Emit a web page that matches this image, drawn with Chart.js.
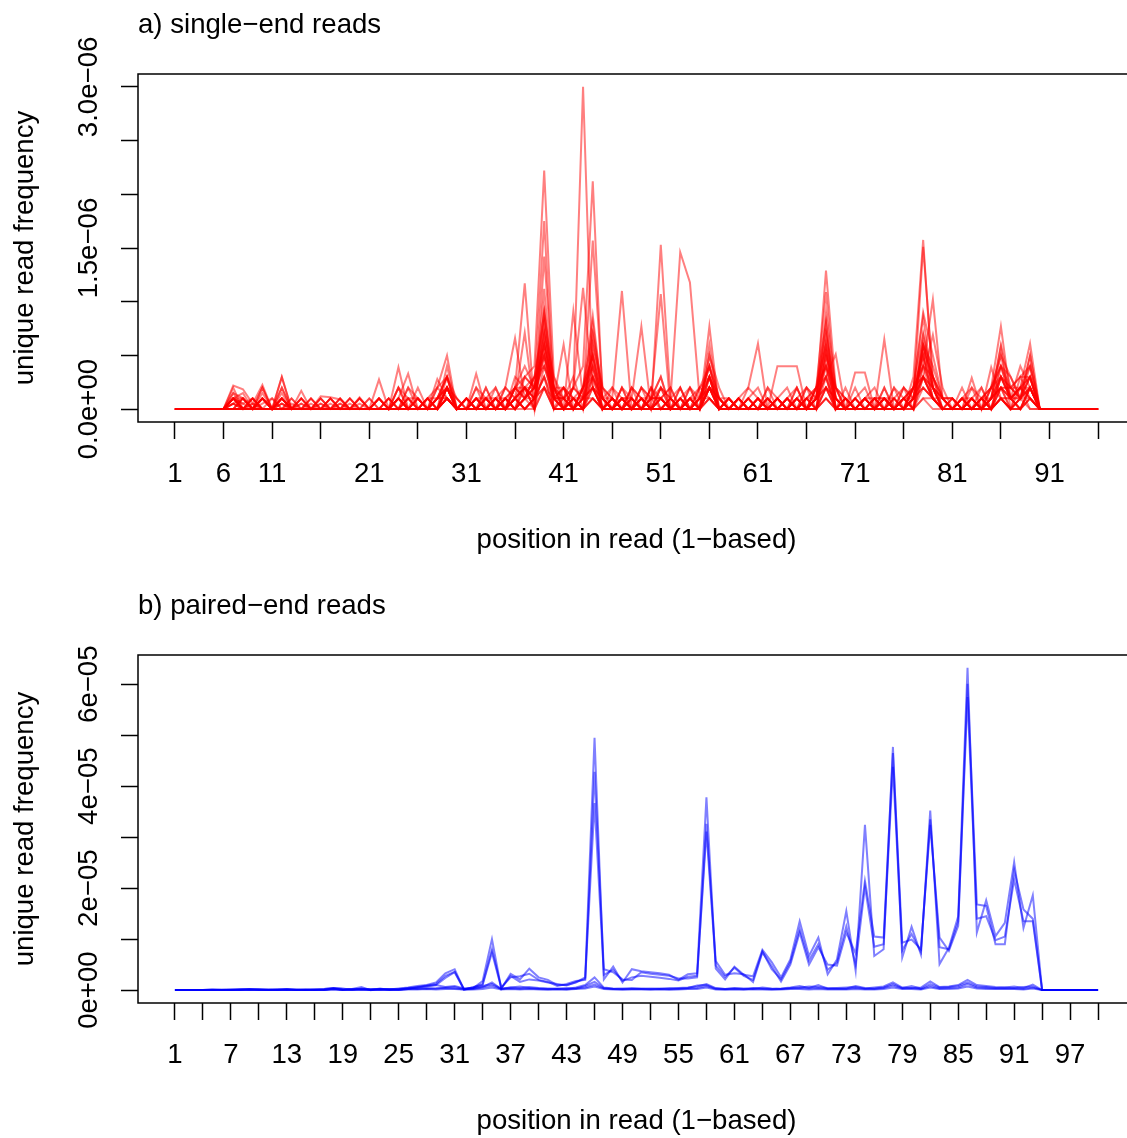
<!DOCTYPE html>
<html>
<head>
<meta charset="utf-8">
<script src="https://cdn.jsdelivr.net/npm/chart.js@4/dist/chart.umd.min.js"></script>
<style>
  html, body { margin: 0; padding: 0; overflow: hidden; background: #fff; width: 1127px; height: 1138px; }
  canvas { position: absolute; left: 0; }
  #chartA { top: 0; }
  #chartB { top: 580px; }
</style>
</head>
<body>
<canvas id="chartA" width="1140" height="580"></canvas>
<canvas id="chartB" width="1140" height="558"></canvas>
<script>
// a) single-end reads: positions 1..96, values in units of 1e-7
const posA = Array.from({length: 96}, (_, i) => i + 1);
const ticksA = [1, 6, 11, 16, 21, 26, 31, 36, 41, 46, 51, 56, 61, 66, 71, 76, 81, 86, 91, 96];
const labelsA = [1, 6, 11, 21, 31, 41, 51, 61, 71, 81, 91];
const yTicksA = [0, 5e-7, 1e-6, 1.5e-6, 2e-6, 2.5e-6, 3e-6];
const yLabelsA = [[0, '0.0e+00'], [1.5e-6, '1.5e\u221206'], [3e-6, '3.0e\u221206']];

const singleT1 = [0,0,0,0,0,0,0,0,0,0, 0,0,0,0,0,0,0,0,0,0, 0,0,0,0,0,0,1,0,2,0, 0,1,0,0,1,0,2,1,5,1,
  1,2,30,2,0,1,0,2,0,1, 3,0,1,0,1,2,0,1,0,1, 2,0,1,0,1,0,1,4,0,1, 0,1,0,2,0,0,1,5,2,1, 0,1,0,1,0,3,1,0,2,0, 0,0,0,0,0,0];
const singleT2 = [0,0,0,0,0,0,1,0,0,0, 0,1,0,0,0,0,0,0,0,0, 0,0,0,0,1,0,0,1,3,0, 0,0,1,0,0,2,3,4,22.2,3,
  1,0,2,8.7,1,0,2,0,1,0, 1,0,0,2,0,3,1,0,0,1, 0,1,0,0,2,0,0,6,1,0, 1,0,0,1,0,1,0,3,1,0, 0,0,1,0,2,1,0,3,1,0, 0,0,0,0,0,0];
const singleT3 = [0,0,0,0,0,0,0,1,0,0, 0,0,1,0,0,0,0,1,0,0, 0,1,0,0,0,1,0,0,2,0, 1,0,0,1,0,1,2,0,9.3,2,
  0,2,4,21.2,1,0,1,0,2,0, 15.3,1,0,1,0,2,0,1,0,0, 1,0,0,1,0,0,2,3,0,1, 0,0,1,0,0,2,0,4,1,0, 1,0,0,2,0,1,1,2,0,0, 0,0,0,0,0,0];
const singleT4 = [0,0,0,0,0,0,2,0,0,1, 0,0,0,1,0,0,0,0,0,1, 0,0,0,1,0,0,1,0,1,0, 0,1,0,0,1,0,3,2,17.5,1,
  2,0,1,15.7,2,1,0,1,0,2, 0,1,14.6,11.8,1,2,0,0,1,0, 0,0,1,0,0,1,0,2,1,0, 1,0,0,0,1,0,2,3,1,0, 0,1,0,0,1,2,0,1,2,0, 0,0,0,0,0,0];
const singleT5 = [0,0,0,0,0,0,0,0,0,1, 0,3,0,0,0,0,0,0,0,0, 0,0,0,0,0,1,0,0,2,0, 1,0,0,1,0,2,11.7,0,14.2,2,
  0,1,2,3,0,1,0,0,1,0, 1,0,2,0,0,3,0,1,0,0, 0,1,0,0,0,2,1,12.9,2,0, 0,1,0,0,1,0,3,15.75,2,1, 0,0,1,0,0,3,1,2,1,0, 0,0,0,0,0,0];
const singleT6 = [0,0,0,0,0,0,1,0,0,0, 0,0,0,0,1,0,0,0,0,0, 0,1,0,0,0,0,0,1,1,0, 0,0,1,0,0,1,2,1,11.2,1,
  0,2,11.3,2,0,1,11,0,1,0, 0,1,0,0,2,1,0,0,1,0, 1,0,0,0,1,0,2,10.9,1,0, 0,0,1,1,0,2,1,15.1,3,1, 1,0,0,1,0,2,2,1,0,0, 0,0,0,0,0,0];
const singleT7 = [0,0,0,0,0,0,0,1,0,0, 0,1,0,0,0,1,0,0,0,0, 0,0,0,3.9,0,0,0,0,1,0, 0,0,0,1,2,6.6,1,2,7,1,
  1,0,1,2,1,0,1,0,2,1, 10.7,0,1,0,0,2,1,0,0,2, 6.1,0,0,1,0,0,1,8.1,0,1, 0,0,0,1,0,0,2,4,10.2,1, 0,0,1,0,2,7.7,1,0,2,0, 0,0,0,0,0,0];
const singleT8 = [0,0,0,0,0,0,1,0,0,2, 0,0,0,1,0,0,0,1,0,0, 0,2.75,0,1,0,0,1,0,2,0, 0,1,0,0,0,1,7.1,0,8,1,
  0,9.1,1,2,0,1,0,1,7.7,0, 1,0,0,1,0,7.7,0,1,0,0, 1,0,0,0,1,0,1,5.5,0,0, 1,0,0,6.5,0,1,0,3,6.9,2, 0,0,0,1,0,2,1,2,6.1,0, 0,0,0,0,0,0];
const singleT9 = [0,0,0,0,0,0,0,0,1,0, 0,0,0,0,0,0,1,0,0,0, 0,0,0,0,0,1,0,2,5,0, 1,0,0,0,1,0,1,3,9,1,
  6,0,2,5,1,0,0,1,0,1, 0,0,1,0,1,3,0,0,1,0, 0,0,1,0,0,1,0,3,5.1,0, 0,1,0,0,0,1,2,8.6,2,0, 0,1,0,0,1,5.8,0,1,5,0, 0,0,0,0,0,0];
const singleT10 = [0,0,0,0,0,0,0,0,0,0, 0,1,0,0,0,0,0,0,1,0, 0,0,0,1,3.3,0,0,2.8,1,0, 0,3.3,0,0,0,1,2,1,6,2,
  1,0,1,8,1,0,1,0,0,1, 1,0,0,1,0,2,1,0,0,0, 0,0,4,4,4,0,1,2,0,0, 3.4,3.4,0,1,0,0,1,5.5,3,0, 0,0,2.9,0,3.9,1,0,2,1,0, 0,0,0,0,0,0];
const singleL1 = [0,0,0,0,0,0,1.5,1,0,1.5, 0,1,0,1,0,0.5,0,0.5,0,1, 0,1,0,2,1,0,1,2,3,0, 0,1,1,0,2,1,2,3,4,1,
  2,1,0,3,1,0,2,1,0,1, 2,1,0,1,2,4,1,0,1,2, 1,0,1,2,0,1,2,4,1,0, 1,2,0,1,1,0,2,4,3,1, 0,1,2,1,2,3,2,3,4,0, 0,0,0,0,0,0];
const singleL2 = [0,0,0,0,0,0,2.2,1.85,0.5,2.25, 0,1,0,1.7,0,1.2,1.1,0.9,0,1.1, 0,1,0,2,0,1,0,1,2,0, 1,0,2,0,1,2,1,2,5,2,
  1,2,1,4,0,1,0,2,1,0, 1,2,0,2,1,3,0,1,0,1, 0,2,1,0,1,2,0,5,2,1, 0,1,2,0,1,2,1,6,4,1, 1,0,1,2,0,4,3,1,3,0, 0,0,0,0,0,0];
const singleL3 = [0,0,0,0,0,0,1,0.5,1,0, 0,3,0,0,0.5,0,0,0,0.5,0, 0,0,1,0,2,0,1,0,3,1, 0,0,1,2,0,1,0,1,6,0,
  1,0,2,5,0,2,1,0,1,0, 0,1,2,0,1,4,0,0,1,0, 1,0,0,1,0,2,1,6,0,1, 0,0,1,0,2,1,0,7,2,0, 0,1,0,1,2,4,1,2,3,0, 0,0,0,0,0,0];
const singleL4 = [0,0,0,0,0,0,1,1.5,0,0.5, 1,0,0.5,0,1,0,0.5,0,0,0, 0,0,0,1,0,2,0,1,2,0, 1,0,0,0,1,0,1,2,7,3,
  0,1,0,6,2,0,1,0,0,2, 1,0,1,0,0,2,1,0,0,1, 0,0,1,0,1,0,1,7,1,0, 1,0,0,1,0,1,2,5,1,1, 1,0,1,0,1,3,1,2,2,0, 0,0,0,0,0,0];
const singleL5 = [0,0,0,0,0,0,0.5,0,0,1, 0,1,0,0,0,0,0,0,0,0, 0,0,0,0,0,0,0,0,1,0, 0,0,1,0,0,1,0,1,3,0,
  0,1,0,2,1,0,0,1,0,0, 0,0,1,0,0,1,0,0,1,0, 0,0,0,1,0,0,1,2,0,0, 0,1,0,0,0,0,1,3,1,0, 0,0,0,1,0,1,0,1,2,0, 0,0,0,0,0,0];
const singleL6 = [0,0,0,0,0,0,1,0,1,0, 0,0.5,0,0,0,0,1,0,1,0, 1,0,0,1,0,0,0,0,2,1, 0,2,0,1,0,3,2,1,5,1,
  2,0,2,4,1,0,1,1,0,0, 2,1,0,1,0,5,2,0,0,1, 0,1,0,0,0,1,0,4,2,1, 0,1,0,0,1,0,1,6,2,0, 0,0,1,0,1,3,2,2,4,0, 0,0,0,0,0,0];
const singleL7 = [0,0,0,0,0,0,0,1,0,1, 0,0,0,0,0,0,0,0,1,0, 0,0,1,0,0,0,0,0,1,0, 0,1,0,0,0,0,1,0,2,1,
  0,0,0,1,0,1,0,0,1,0, 0,0,0,0,1,1,0,0,0,0, 0,0,1,0,0,0,0,1,0,0, 0,0,0,0,0,0,1,2,1,0, 0,1,0,0,0,1,0,1,1,0, 0,0,0,0,0,0];
const singleL8 = [0,0,0,0,0,0,1,1,0,2, 0,0,1,0,0,0.5,0,0,0,0.5, 0,0,0,0,1,1,0,1,3,0, 1,0,1,0,2,1,3,2,6,2,
  0,1,1,5,1,2,0,1,0,1, 1,2,0,0,1,4,1,1,0,0, 0,1,0,1,0,0,2,6,1,0, 0,0,1,1,0,1,1,4,2,0, 0,1,0,1,2,4,2,3,3,0, 0,0,0,0,0,0];
const singleL9 = [0,0,0,0,0,0,0,0,0,0, 0,0,0,0,0,0,0,0,0,0, 0,0,0,0,0,0,0,0,1,0, 0,0,0,1,0,0,0,1,2,0,
  0,0,1,1,0,0,0,0,0,0, 0,0,0,0,0,1,0,0,0,0, 0,0,0,0,0,0,0,1,0,0, 0,0,0,0,0,0,0,1,0,0, 0,0,0,0,0,1,0,0,1,0, 0,0,0,0,0,0];
const singleL10 = [0,0,0,0,0,0,0.5,0,1,0, 0,1,0,1,0,0,0,0.5,0,0, 0,1,0,2,0,0,1,0,2,1, 0,2,1,0,1,2,1,3,8,1,
  1,3,0,7,2,1,0,0,2,1, 3,0,1,2,0,6,0,0,1,0, 1,0,0,1,2,0,1,9,2,0, 1,0,1,0,0,1,2,9,5,1, 0,1,1,0,1,5,3,1,5,0, 0,0,0,0,0,0];
const singleL11 = [0,0,0,0,0,0,0,0,0,1, 0,0,0,0,0,0,0,0,0,0, 0,0,0,0,0,0,0,0,1,0, 0,0,0,0,0,1,0,0,2,0,
  0,0,0,1,0,0,1,0,0,0, 0,0,0,0,0,2,0,0,0,0, 0,0,0,0,0,0,0,2,0,0, 0,0,0,0,0,0,0,2,1,0, 0,0,0,0,0,1,1,0,2,0, 0,0,0,0,0,0];
const singleL12 = [0,0,0,0,0,0,1.5,0,0,1, 0,2,0,0,0,0,1,0,0,0, 0,0,0,0,1,0,0,0,4,0, 0,0,1,0,0,2,4,2,9,2,
  2,0,2,7,1,0,1,0,0,2, 0,1,0,0,0,5,1,0,1,0, 0,0,1,0,0,1,2,8,0,1, 0,0,0,1,0,0,2,7,3,1, 0,0,0,1,1,6,2,1,4,0, 0,0,0,0,0,0];
const singleL13 = [0,0,0,0,0,0,1,0,0,1, 0,1,0,0,0,1,0,0,0,1, 0,0,1,0,1,0,0,2,1,0, 0,1,0,2,0,1,2,0,4,1,
  0,2,1,3,0,1,0,2,1,0, 2,0,1,0,2,3,0,1,0,1, 0,2,0,1,0,1,1,3,0,2, 0,1,1,0,2,0,1,3,2,0, 1,0,2,0,1,2,1,4,2,0, 0,0,0,0,0,0];
const singleL14 = [0,0,0,0,0,0,0.5,1,0,0, 1,0,0,0.5,0,0,1,0,0,0, 1,0,0,1,0,1,0,0,2,0, 1,0,2,0,1,0,1,3,5,0,
  1,0,0,4,0,0,2,0,1,0, 1,0,2,0,0,3,1,0,1,0, 0,1,0,0,2,0,0,5,1,0, 2,0,0,1,0,0,1,5,1,0, 0,2,0,1,0,3,1,1,3,0, 0,0,0,0,0,0];
const singleL15 = [0,0,0,0,0,0,1,0.5,0,1, 0,1.5,0,0.5,0,0,0,1,0,0, 0,1,0,1,0,0,1,1,3,0, 0,0,1,1,0,2,1,2,6,1,
  1,1,0,5,0,1,0,0,1,1, 1,0,0,1,1,4,0,0,0,0, 1,0,1,0,0,1,0,5,0,0, 0,1,0,2,0,1,0,6,2,1, 0,0,1,0,1,4,1,2,3,0, 0,0,0,0,0,0];
const singleL16 = [0,0,0,0,0,0,0,0,0.5,0, 0,0.5,0,0,0,0,0,0,0,0, 0,0,0,1,0,0,0,0,1,0, 0,0,0,0,1,0,1,1,3,0,
  0,1,0,2,0,0,0,0,0,1, 1,0,0,0,0,2,0,0,0,0, 0,0,0,0,0,0,1,3,0,0, 0,0,0,0,0,0,1,3,1,0, 0,0,0,0,1,2,0,0,2,0, 0,0,0,0,0,0];
const singleL17 = [0,0,0,0,0,0,1,0,1,0, 0,2,0,0,0,1,0,0,0,0, 0,0,0,0,2,1,0,0,2,0, 1,0,0,1,0,2,2,0,7,0,
  2,1,0,6,1,1,0,0,1,0, 0,1,0,0,1,3,0,1,0,0, 1,0,1,0,0,0,1,7,2,0, 0,1,0,0,0,1,0,6,3,0, 1,0,0,0,2,5,1,1,3,0, 0,0,0,0,0,0];
const singleL18 = [0,0,0,0,0,0,0,0,0,0, 0,0,0,0,0,0,0,0,0,0, 0,0,0,0,0,0,0,1,1,0, 0,1,0,0,0,1,0,1,3,1,
  0,0,1,2,0,0,1,0,0,0, 0,0,0,1,0,2,0,0,0,0, 0,0,0,0,1,0,0,2,1,0, 0,0,1,0,0,0,1,2,1,0, 0,0,0,1,0,2,1,0,1,0, 0,0,0,0,0,0];
const singleL19 = [0,0,0,0,0,0,1,0,0,0, 0,0,0,0,1,0,0,0,0,0, 0,0,1,0,0,0,0,1,2,0, 0,1,0,1,1,0,2,2,4,2,
  0,1,0,3,1,0,1,1,0,0, 2,0,0,1,0,2,1,0,1,0, 0,1,0,0,1,0,2,4,0,1, 0,0,0,1,0,0,2,3,2,0, 0,0,1,0,1,2,2,1,2,0, 0,0,0,0,0,0];
const singleL20 = [0,0,0,0,0,0,0.5,0,0.5,0, 0,0.5,0,0,0,0,0,0,0,0, 0,0,0,0,0,0,0,0,1,0, 0,0,0,0,0,1,0,1,2,0,
  0,0,0,1,0,0,0,0,1,0, 0,0,0,0,0,1,0,0,0,0, 0,0,0,0,0,0,0,1,0,0, 0,0,0,0,0,0,0,1,1,0, 0,0,0,0,0,1,0,0,1,0, 0,0,0,0,0,0];

const seriesA = [singleT1, singleT2, singleT3, singleT4, singleT5, singleT6, singleT7, singleT8, singleT9, singleT10,
  singleL1, singleL2, singleL3, singleL4, singleL5, singleL6, singleL7, singleL8, singleL9, singleL10,
  singleL11, singleL12, singleL13, singleL14, singleL15, singleL16, singleL17, singleL18, singleL19, singleL20];

// b) paired-end reads: positions 1..100, values in units of 1e-6
const posB = Array.from({length: 100}, (_, i) => i + 1);
const ticksB = Array.from({length: 34}, (_, i) => 1 + 3 * i);
const labelsB = [1, 7, 13, 19, 25, 31, 37, 43, 49, 55, 61, 67, 73, 79, 85, 91, 97];
const yTicksB = [0, 1e-5, 2e-5, 3e-5, 4e-5, 5e-5, 6e-5];
const yLabelsB = [[0, '0e+00'], [2e-5, '2e\u221205'], [4e-5, '4e\u221205'], [6e-5, '6e\u221205']];

const pairedB1 = [0,0,0,0,0.1,0,0,0.2,0.1,0.2, 0,0.1,0.2,0,0,0.1,0.2,0.4,0.2,0.1, 0.2,0.1,0.2,0.1,0.3,0.5,0.8,1.0,1.5,3.3,
  4.1,0.1,0.4,1.8,10.0,0.3,3.2,2.1,4.2,2.5, 2.0,1.0,1.0,1.5,2.5,49.5,2.1,4.6,1.5,4.1, 3.7,3.5,3.3,3.0,2.0,3.1,3.3,37.8,4.2,2.1,
  4.6,3.0,2.7,7.9,5.5,2.5,6.0,13.5,6.7,10.3, 3.1,6.0,15.5,3.8,32.4,6.7,8.0,47.7,6.4,12.4, 7.0,35.2,5.1,8.3,14.5,63.2,11.3,17.6,10.6,13.2,
  25.1,12.2,18.6,0,0,0,0,0,0,0];
const pairedB2 = [0,0,0,0,0,0.1,0,0.1,0,0.1, 0.1,0,0.1,0,0.2,0,0.1,0.3,0.1,0.2, 0.1,0.2,0.1,0.2,0.2,0.4,0.6,0.9,1.2,2.8,
  3.6,0.2,0.5,1.2,8.0,0.5,2.5,2.7,3.2,2.0, 1.6,0.8,1.2,1.8,2.0,42.8,4.1,3.5,2.1,2.0, 3.5,3.2,3.0,2.8,2.3,2.3,2.5,32.6,5.7,3.0,
  3.3,3.1,1.6,7.4,4.7,1.7,5.0,11.3,5.0,8.4, 5.0,4.8,11.3,7.2,21.4,10.5,10.3,46.5,9.3,9.9, 8.0,32.4,10.3,7.7,12.6,60.1,16.8,16.5,9.0,9.0,
  23.6,15.8,14.0,0,0,0,0,0,0,0];
const pairedB3 = [0,0,0,0,0,0,0.1,0,0.1,0, 0,0.1,0,0.1,0,0.1,0,0.2,0,0.1, 0.2,0,0.1,0.2,0.1,0.3,0.5,0.7,1.0,2.4,
  3.5,0.1,0.6,1.0,7.4,0.4,2.8,1.6,2.1,1.9, 1.5,1.2,0.9,1.6,2.2,36.7,3.0,4.0,1.8,2.5, 2.8,2.6,2.4,2.2,1.9,2.6,2.8,31.1,4.8,2.6,
  4.4,2.8,2.0,7.6,4.1,2.1,5.5,12.0,5.8,9.0, 4.0,5.4,12.5,5.0,20.3,8.5,9.0,43.8,7.8,11.0, 7.5,33.5,8.4,8.0,13.5,57.5,14.0,14.5,9.8,10.5,
  21.7,13.5,13.5,0,0,0,0,0,0,0];
const pairedB4 = [0,0,0,0,0.1,0,0.1,0,0.2,0, 0.1,0,0.2,0,0,0.1,0,0.3,0,0.2, 0.6,0,0.3,0,0.1,0.2,0.3,0.2,0.3,0.5,
  0.6,0.2,0.3,0.6,1.5,0.2,0.5,0.7,0.4,0.3, 0.2,0.3,0.2,0.5,1.0,2.5,0.5,0.3,0.2,0.4, 0.3,0.2,0.3,0.2,0.4,0.5,0.7,1.2,0.4,0.2,
  0.3,0.2,0.4,0.3,0.2,0.3,0.5,0.8,0.4,1.0, 0.3,0.4,0.5,0.6,0.3,0.5,0.7,1.5,0.5,0.4, 0.5,1.7,0.6,0.7,1.0,2.0,1.0,0.8,0.6,0.5,
  0.7,0.4,1.1,0,0,0,0,0,0,0];
const pairedB5 = [0,0,0,0,0,0,0,0.1,0.2,0.1, 0,0.1,0,0.1,0,0,0.2,0.4,0.3,0, 0.3,0.1,0.2,0.1,0,0.2,0.5,0.8,1.0,0.6,
  0.8,0.3,0.4,0.8,1.2,0.3,0.5,0.4,0.6,0.4, 0.3,0.2,0.4,0.3,0.8,1.6,0.4,0.2,0.3,0.2, 0.2,0.3,0.2,0.4,0.3,0.4,0.9,1.0,0.3,0.2,
  0.4,0.3,0.2,0.5,0.3,0.2,0.4,0.5,0.7,0.6, 0.4,0.3,0.3,0.8,0.4,0.3,0.5,1.2,0.4,0.8, 0.3,1.2,0.5,0.6,0.8,1.5,0.7,0.6,0.4,0.5,
  0.4,0.6,0.7,0,0,0,0,0,0,0];
const pairedB6 = [0,0,0,0,0,0,0,0,0.1,0, 0,0,0.1,0,0,0,0,0.2,0,0.1, 0.1,0,0.1,0,0.1,0.3,0.2,0.4,0.3,0.4,
  0.3,0.1,0.2,0.5,0.9,0.2,0.3,0.2,0.3,0.2, 0.1,0.2,0.1,0.3,0.5,1.1,0.3,0.2,0.1,0.2, 0.2,0.1,0.2,0.1,0.2,0.3,0.4,0.8,0.2,0.1,
  0.2,0.1,0.3,0.2,0.1,0.2,0.3,0.4,0.3,0.4, 0.2,0.2,0.2,0.4,0.2,0.2,0.4,0.9,0.3,0.4, 0.2,0.8,0.3,0.4,0.5,1.2,0.5,0.4,0.3,0.3,
  0.3,0.2,0.5,0,0,0,0,0,0,0];
const pairedB7 = [0,0,0,0,0,0,0,0,0,0, 0,0,0,0,0,0,0,0.1,0,0, 0,0,0,0,0,0.1,0.1,0.2,0.1,0.2,
  0.2,0.1,0.1,0.2,0.5,0.1,0.2,0.1,0.2,0.1, 0.1,0.1,0.1,0.2,0.3,0.7,0.2,0.1,0.1,0.1, 0.1,0.1,0.1,0.1,0.1,0.2,0.2,0.5,0.1,0.1,
  0.1,0.1,0.1,0.1,0.1,0.1,0.2,0.2,0.1,0.2, 0.1,0.1,0.1,0.2,0.1,0.1,0.2,0.5,0.2,0.2, 0.1,0.5,0.2,0.2,0.3,0.7,0.3,0.2,0.2,0.2,
  0.2,0.1,0.3,0,0,0,0,0,0,0];

const seriesB = [pairedB1, pairedB2, pairedB3, pairedB4, pairedB5, pairedB6, pairedB7];

const FONT = '"Liberation Sans", Arial, Helvetica, sans-serif';
const FONT_SIZE = 27.6;

// box, rotated y labels and titles, placed from the chart's own scales
const frame = {
  id: 'frame',
  afterDraw(chart, args, o) {
    const ctx = chart.ctx, a = chart.chartArea, y = chart.scales.y;
    ctx.save();
    ctx.strokeStyle = '#000';
    ctx.lineWidth = 1.5;
    ctx.strokeRect(a.left, a.top, a.right - a.left, a.bottom - a.top);
    ctx.fillStyle = '#000';
    ctx.font = FONT_SIZE + 'px ' + FONT;
    ctx.textBaseline = 'middle';
    ctx.textAlign = 'left';
    ctx.fillText(o.title, a.left, a.top - 49);
    ctx.textAlign = 'center';
    ctx.fillText(o.xTitle, (a.left + a.right) / 2, a.bottom + 118);
    o.yLabels.forEach(([v, txt]) => {
      ctx.save();
      ctx.translate(89, y.getPixelForValue(v));
      ctx.rotate(-Math.PI / 2);
      ctx.fillText(txt, 0, 0);
      ctx.restore();
    });
    ctx.save();
    ctx.translate(25, (a.top + a.bottom) / 2);
    ctx.rotate(-Math.PI / 2);
    ctx.fillText(o.yTitle, 0, 0);
    ctx.restore();
    ctx.restore();
  }
};

function makeChart(id, pos, series, unit, color, xr, yr, xt, xl, yt, yl, padTop, xHeight, title) {
  new Chart(document.getElementById(id), {
    type: 'line',
    data: {
      datasets: series.map(s => ({
        data: s.map((v, i) => ({x: pos[i], y: v * unit})),
        borderColor: color,
        borderWidth: 2,
        pointRadius: 0,
        tension: 0,
        fill: false
      }))
    },
    options: {
      responsive: false,
      animation: false,
      devicePixelRatio: 1,
      layout: {padding: {top: padTop, right: 5, bottom: 0, left: 0}},
      plugins: {
        legend: {display: false},
        tooltip: {enabled: false},
        frame: {title: title, xTitle: 'position in read (1\u2212based)', yTitle: 'unique read frequency', yLabels: yl}
      },
      scales: {
        x: {
          type: 'linear', min: xr[0], max: xr[1],
          afterBuildTicks: s => { s.ticks = xt.map(v => ({value: v})); },
          afterFit: s => { s.height = xHeight; },
          border: {display: false},
          grid: {drawOnChartArea: false, drawTicks: true, tickLength: 17, tickWidth: 1.5, tickColor: '#000'},
          ticks: {
            autoSkip: false, maxRotation: 0, minRotation: 0, padding: 19, color: '#000',
            font: {family: FONT, size: FONT_SIZE},
            callback: v => xl.includes(v) ? String(v) : ''
          }
        },
        y: {
          type: 'linear', min: yr[0], max: yr[1],
          afterBuildTicks: s => { s.ticks = yt.map(v => ({value: v})); },
          afterFit: s => { s.width = 138; },
          border: {display: false},
          grid: {drawOnChartArea: false, drawTicks: true, tickLength: 17, tickWidth: 1.5, tickColor: '#000'},
          ticks: {display: false}
        }
      }
    },
    plugins: [frame]
  });
}

makeChart('chartA', posA, seriesA, 1e-7, 'rgba(255,0,0,0.5)', [-2.8, 99.8], [-1.2e-7, 3.12e-6],
  ticksA, labelsA, yTicksA, yLabelsA, 74, 158, 'a) single\u2212end reads');
makeChart('chartB', posB, seriesB, 1e-6, 'rgba(0,0,255,0.5)', [-2.96, 103.96], [-2.53e-6, 6.573e-5],
  ticksB, labelsB, yTicksB, yLabelsB, 75, 135, 'b) paired\u2212end reads');
</script>
</body>
</html>
